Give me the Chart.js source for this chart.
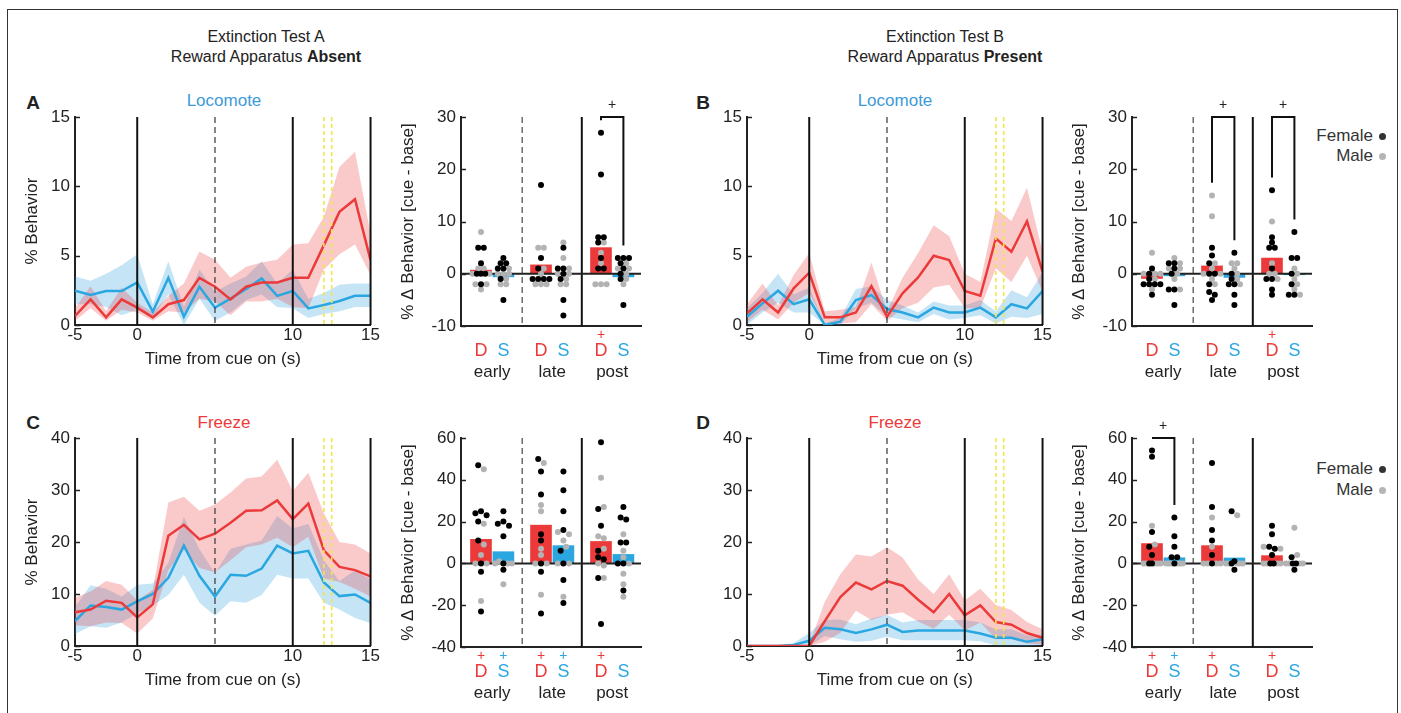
<!DOCTYPE html>
<html>
<head>
<meta charset="utf-8">
<script src="https://cdn.jsdelivr.net/npm/chart.js@4.4.0/dist/chart.umd.min.js"></script>
<style>
  body { margin: 0; background: #fff; overflow: hidden; width: 1401px; height: 713px; font-family: "Liberation Sans", Arial, sans-serif; color: #222; }
  #frame { position: absolute; left: 7px; top: 9px; width: 1389px; height: 720px; border: 1.5px solid #333; }
  canvas { position: absolute; }
  .t { position: absolute; transform: translate(-50%, -50%); white-space: nowrap; }
  .head { font-family: "Liberation Sans Narrow", "Liberation Sans", Arial, sans-serif; font-size: 16px; color: #222; }
  .letter { font-weight: bold; font-size: 19px; color: #222; }
  .sub { font-size: 17px; }
  .leg { position: absolute; font-size: 17px; color: #333; transform: translateY(-50%); text-align: right; width: 120px; white-space: nowrap; }
  .dot { display: inline-block; width: 7px; height: 7px; border-radius: 50%; margin-left: 6px; vertical-align: middle; }
</style>
</head>
<body>
<div id="frame"></div>

<div class="t head" style="left:266px;top:37px">Extinction Test A</div>
<div class="t head" style="left:266px;top:57px">Reward Apparatus <b>Absent</b></div>
<div class="t head" style="left:945px;top:37px">Extinction Test B</div>
<div class="t head" style="left:945px;top:57px">Reward Apparatus <b>Present</b></div>

<div class="t letter" style="left:33px;top:103px">A</div>
<div class="t letter" style="left:703px;top:103px">B</div>
<div class="t letter" style="left:33px;top:423px">C</div>
<div class="t letter" style="left:703px;top:423px">D</div>

<div class="t sub" style="left:224px;top:101px;color:#3D9AD8">Locomote</div>
<div class="t sub" style="left:895px;top:101px;color:#3D9AD8">Locomote</div>
<div class="t sub" style="left:224px;top:423px;color:#EC3A3A">Freeze</div>
<div class="t sub" style="left:895px;top:423px;color:#EC3A3A">Freeze</div>

<div class="leg" style="left:1266px;top:136px">Female<span class="dot" style="background:#333"></span></div>
<div class="leg" style="left:1266px;top:156px">Male<span class="dot" style="background:#b5b5b5"></span></div>
<div class="leg" style="left:1266px;top:469px">Female<span class="dot" style="background:#333"></span></div>
<div class="leg" style="left:1266px;top:490px">Male<span class="dot" style="background:#b5b5b5"></span></div>

<canvas id="lineA" width="360" height="300" style="left:20px;top:85px"></canvas>
<canvas id="barA" width="270" height="300" style="left:380px;top:85px"></canvas>
<canvas id="lineB" width="360" height="300" style="left:692px;top:85px"></canvas>
<canvas id="barB" width="270" height="300" style="left:1051px;top:85px"></canvas>
<canvas id="lineC" width="360" height="300" style="left:20px;top:406px"></canvas>
<canvas id="barC" width="270" height="300" style="left:380px;top:406px"></canvas>
<canvas id="lineD" width="360" height="300" style="left:692px;top:406px"></canvas>
<canvas id="barD" width="270" height="300" style="left:1051px;top:406px"></canvas>

<script>
// ---- time course data (1 s bins) ----
const time = [-4, -3, -2, -1, 0, 1, 2, 3, 4, 5, 6, 7, 8, 9, 10, 11, 12, 13, 14, 15];
const xTickValues = [-4, 0, 10, 15];
const xTickLabels = ['-5', '0', '10', '15'];

// A: locomote, test A
const locoA_red    = [0.65, 1.85, 0.55, 1.85, 1.25, 0.55, 1.5, 1.8, 3.4, 2.76, 1.85, 2.76, 3.07, 3.07, 3.4, 3.4, 5.76, 8.16, 9.07, 4.68];
const locoA_redLo  = [0.3, 1.2, 0.3, 1.1, 0.9, 0.3, 1.0, 0.9, 1.9, 1.7, 0.7, 1.7, 1.7, 1.9, 1.3, 1.2, 4.0, 5.1, 5.8, 3.6];
const locoA_redHi  = [1.2, 2.8, 1.0, 2.7, 1.6, 0.9, 2.1, 3.0, 5.3, 4.7, 3.4, 4.2, 4.5, 4.7, 5.8, 5.9, 7.8, 11.4, 12.5, 6.6];
const locoA_blue   = [2.47, 2.16, 2.45, 2.45, 3.07, 0.96, 3.4, 0.6, 2.76, 1.25, 1.9, 2.6, 3.36, 2.1, 2.45, 1.2, 1.44, 1.73, 2.11, 2.11];
const locoA_blueLo = [1.5, 1.5, 1.3, 0.7, 1.1, 0.5, 2.2, 0.0, 1.9, 0.3, 0.9, 1.8, 2.2, 1.3, 1.2, 0.5, 0.8, 1.0, 1.3, 1.3];
const locoA_blueHi = [3.5, 3.2, 3.7, 4.3, 5.1, 1.5, 4.6, 1.3, 4.0, 2.4, 3.0, 3.5, 4.6, 3.0, 4.0, 1.9, 2.3, 2.9, 3.0, 3.0];

// B: locomote, test B
const locoB_red    = [0.84, 1.85, 0.9, 2.64, 3.77, 0.55, 0.55, 0.9, 2.8, 0.6, 2.28, 3.43, 4.99, 4.68, 2.45, 2.11, 6.24, 5.28, 7.48, 3.84];
const locoB_redLo  = [0.2, 1.1, 0.4, 1.6, 2.3, 0.1, 0.1, 0.2, 1.5, 0.3, 1.2, 1.6, 2.7, 2.9, 1.2, 1.2, 4.1, 3.1, 5.0, 2.4];
const locoB_redHi  = [1.5, 3.0, 1.4, 3.6, 5.2, 1.0, 1.1, 1.3, 4.5, 1.0, 3.4, 5.2, 7.2, 6.4, 3.7, 3.1, 8.4, 7.5, 9.9, 5.3];
const locoB_blue   = [0.6, 1.56, 2.47, 1.5, 1.85, 0, 0.24, 1.8, 2.16, 1.15, 0.9, 0.55, 1.25, 0.9, 0.9, 1.25, 0.55, 1.5, 1.2, 2.45];
const locoB_blueLo = [0, 0.9, 1.6, 0.9, 0.9, 0, 0, 1.2, 1.6, 0.6, 0.4, 0.2, 0.8, 0.4, 0.5, 0.7, 0.1, 0.6, 0.5, 0.8];
const locoB_blueHi = [1.2, 2.3, 3.7, 2.2, 2.7, 0.1, 0.5, 2.6, 2.8, 1.8, 1.4, 0.9, 1.7, 1.4, 1.4, 1.8, 1.0, 2.5, 2.0, 3.8];

// C: freeze, test A
const freezeC_red    = [6.5, 7.0, 8.7, 8.3, 5.5, 8.0, 21.2, 23.3, 20.5, 21.6, 23.7, 26.0, 26.1, 28.0, 24.4, 27.4, 18.4, 15.2, 14.6, 13.4];
const freezeC_redLo  = [4.0, 3.8, 4.5, 4.4, 2.4, 5.3, 14.5, 18.5, 15.0, 14.2, 16.5, 19.0, 19.5, 20.8, 19.0, 21.0, 13.0, 12.3, 11.0, 9.5];
const freezeC_redHi  = [9.3, 10.5, 12.5, 11.8, 8.8, 10.8, 27.6, 28.7, 26.0, 27.2, 29.5, 32.2, 32.6, 35.8, 29.8, 33.3, 25.5, 20.0, 19.5, 17.8];
const freezeC_blue   = [4.8, 7.8, 7.5, 7.0, 8.6, 10.0, 13.1, 19.3, 13.5, 9.5, 13.7, 13.5, 14.9, 19.3, 17.8, 18.3, 12.2, 9.6, 9.9, 8.3];
const freezeC_blueLo = [2.3, 3.8, 3.5, 4.5, 6.3, 7.8, 9.8, 13.7, 8.3, 5.8, 8.6, 8.3, 9.8, 13.7, 13.0, 13.0, 8.3, 7.0, 5.4, 4.4];
const freezeC_blueHi = [7.5, 11.7, 11.0, 9.5, 11.8, 12.0, 16.0, 24.8, 18.6, 14.0, 18.7, 19.5, 20.3, 25.0, 22.6, 23.5, 16.5, 12.5, 14.5, 12.8];

// D: freeze, test B
const freezeD_red    = [0, 0, 0, 0, 0, 4.8, 9.4, 12.2, 10.9, 12.5, 11.6, 8.9, 6.5, 10.0, 5.9, 7.8, 4.6, 4.1, 2.5, 1.6];
const freezeD_redLo  = [0, 0, 0, 0, 0, 0.8, 2.5, 6.8, 5.0, 6.0, 6.5, 4.7, 3.3, 6.0, 3.0, 4.5, 1.3, 1.3, 0.5, 0.3];
const freezeD_redHi  = [0, 0, 0, 0, 0.3, 8.5, 13.8, 17.6, 17.2, 19.0, 17.0, 12.8, 10.0, 13.8, 8.8, 11.0, 7.9, 6.9, 4.6, 3.2];
const freezeD_blue   = [0, 0, 0, 0.2, 1.0, 3.5, 3.2, 2.5, 3.2, 4.1, 2.7, 3.0, 3.0, 3.0, 3.0, 2.4, 1.6, 1.6, 0.8, 1.3];
const freezeD_blueLo = [0, 0, 0, 0, 0, 1.9, 1.3, 0.8, 1.0, 1.8, 1.1, 1.1, 1.1, 1.1, 1.1, 0.9, 0.1, 0.1, 0, 0.2];
const freezeD_blueHi = [0, 0, 0, 0.6, 2.5, 5.0, 5.1, 4.2, 5.3, 6.0, 4.5, 5.0, 5.0, 5.0, 5.0, 4.5, 3.2, 3.2, 2.0, 2.2];

// ---- cue minus baseline, order: early D, early S, late D, late S, post D, post S ----
const periods = ['early', 'late', 'post'];
const cues = ['D', 'S'];

const barsA = [0.7, -0.6, 1.7, -0.1, 5.0, -0.6];
const femaleA = [[5, 5, 2, 0, 0, 0, -2], [3, 2, 2, 1, 1, -1, -5], [17, 3, 1, -1, -1, -1, -1], [5, 1, 1, 0, -1, -5, -8], [27, 19, 7, 7, 6, 3, 1, 1], [3, 3, 3, 2, 1, 0, -1, -6]];
const maleA = [[8, 1, 1, 0, 0, -2, -2, -3], [1, 0, 0, 0, -1, -2, -2], [5, 5, 1, 0, -2, -2, -2], [6, 3, 1, 0, 0, -1, -2, -2], [6, 4, 2, -2, -2, -2], [2, 1, 1, 0, -1, -2]];

const barsB = [-0.9, -0.4, 1.5, -0.7, 3.0, -0.2];
const femaleB = [[1, 0, -1, -2, -2, -2, -2, -4], [2, 2, 1, 0, -3, -3, -6], [5, 3.5, 2, 0, 0, -2, -3.5, -4, -5], [4, 0, -1, -2, -2, -4, -6], [16, 7, 6, 5, 5, 1, -1, -1, -3, -4], [8, 3, 3, 0, -2, -4, -4]];
const maleB = [[4, 0, 0, 0, -1, -3], [3, 2, 1, 1, 0, -1, -3], [15, 11, 2, 1, 0, 0, -1, -2], [2, 2, 1, 0, -1, -2], [10, 2, 0, 0, -1], [1, 0, -1, -2, -3, -4]];

const barsC = [11.5, 5.6, 18.3, 8.5, 10.5, 4.3];
const femaleC = [[47, 25, 24, 23, 20, 11, 0, -4, -23], [25, 20, 19, 18, 13, 0, -3], [50, 44, 33, 14, 11, 0, -4, -24], [44, 35, 25, 16, 6, 0, -8, -19], [58, 26, 18, 6, 3, 2, -7, -29], [27, 22, 21, 10, 10, 0, 0, -13]];
const maleC = [[45, 19, 9, 4, 0, 0, -18], [1, 0, 0, 0, -10], [48, 28, 25, 7, 4, 0, 0, -15], [15, 14, 11, 8, 0, 0, -16], [41, 27, 13, 12, 7, 0, -1, -7], [14, 6, 3, 0, -5, -10, -16]];

const barsD = [9.5, 2.7, 8.5, 2.6, 3.7, 0.8];
const femaleD = [[54, 51, 15, 8, 4, 0, 0], [22, 13, 8, 3, 3, 0], [48, 27, 16, 11, 4, 0], [25, 1, 0, -3], [18, 14, 8, 7, 4, 0, 0], [3, 0, 0, -3]];
const maleD = [[18, 9, 0, 0, 0, 0, 0], [0, 0, 0, 0, 0, 0], [22, 8, 0, 0, 0, 0], [23, 0, 0, 0, 0, 0], [8, 7, 0, 0, 0, 0], [17, 4, 0, 0, 0, 0]];

// significance: brackets between D and S, '+' marks under the cue labels
const sigA = { brackets: ['post'], plusD: [false, false, true], plusS: [false, false, false] };
const sigB = { brackets: ['late', 'post'], plusD: [false, false, true], plusS: [false, false, false] };
const sigC = { brackets: [], plusD: [true, true, true], plusS: [true, true, false] };
const sigD = { brackets: ['early'], plusD: [true, true, true], plusS: [true, false, false] };

const RED = '#EC3A3A';
const BLUE = '#2AA7E0';
const RED_BAND = 'rgba(237, 50, 55, 0.26)';
const BLUE_BAND = 'rgba(40, 160, 220, 0.27)';

Chart.defaults.font.family = "'Liberation Sans', Arial, sans-serif";
Chart.defaults.font.size = 17;
Chart.defaults.color = '#222';
Chart.defaults.animation = false;

// vertical event markers on the time course plots
const solidMarks = [0, 10, 15];
const dashedMark = 5;
const pelletMarks = [12, 12.5];

function vline(ctx, x, top, bottom) {
  ctx.beginPath();
  ctx.moveTo(x, top);
  ctx.lineTo(x, bottom);
  ctx.stroke();
}

function insideTicks(chart) {
  const { ctx, chartArea: a, scales: { y } } = chart;
  ctx.save();
  ctx.strokeStyle = '#222';
  ctx.lineWidth = 1.5;
  y.ticks.forEach(t => {
    const py = Math.round(y.getPixelForValue(t.value)) + 0.5;
    ctx.beginPath();
    ctx.moveTo(a.left, py);
    ctx.lineTo(a.left + 5, py);
    ctx.stroke();
  });
  ctx.restore();
}

const lineDeco = {
  id: 'lineDeco',
  afterDatasetsDraw(chart) {
    const { ctx, chartArea: a, scales: { x } } = chart;
    ctx.save();
    ctx.strokeStyle = '#111';
    ctx.lineWidth = 2;
    solidMarks.forEach(v => vline(ctx, x.getPixelForValue(v), a.top, a.bottom));
    ctx.strokeStyle = '#444';
    ctx.lineWidth = 1.3;
    ctx.setLineDash([6, 4]);
    vline(ctx, x.getPixelForValue(dashedMark), a.top, a.bottom);
    ctx.strokeStyle = '#F2E64A';
    ctx.lineWidth = 1.6;
    ctx.setLineDash([4, 3]);
    pelletMarks.forEach(v => vline(ctx, x.getPixelForValue(v), a.top, a.bottom));
    ctx.restore();
  },
  afterDraw(chart) { insideTicks(chart); }
};

function makeLineChart(id, red, redLo, redHi, blue, blueLo, blueHi, yMax, yStep, yTitle) {
  const pts = arr => arr.map((v, i) => ({ x: time[i], y: v }));
  return new Chart(document.getElementById(id), {
    type: 'line',
    data: {
      datasets: [
        { data: pts(red), borderColor: RED, borderWidth: 2.5, pointRadius: 0, order: 0 },
        { data: pts(blue), borderColor: BLUE, borderWidth: 2.5, pointRadius: 0, order: 1 },
        { data: pts(redHi), borderWidth: 0, pointRadius: 0, backgroundColor: RED_BAND, fill: '+1', order: 2 },
        { data: pts(redLo), borderWidth: 0, pointRadius: 0, order: 3 },
        { data: pts(blueHi), borderWidth: 0, pointRadius: 0, backgroundColor: BLUE_BAND, fill: '+1', order: 4 },
        { data: pts(blueLo), borderWidth: 0, pointRadius: 0, order: 5 }
      ]
    },
    options: {
      responsive: false,
      devicePixelRatio: 1,
      layout: { padding: { left: 2, right: 8, top: 32, bottom: 15 } },
      plugins: { legend: { display: false }, tooltip: { enabled: false } },
      scales: {
        x: {
          type: 'linear', min: -4, max: 15,
          grid: { display: false, drawTicks: false },
          border: { display: true, color: '#222', width: 2 },
          afterBuildTicks: s => { s.ticks = xTickValues.map(v => ({ value: v })); },
          ticks: { padding: 0, maxRotation: 0, callback: v => xTickLabels[xTickValues.indexOf(v)] },
          title: { display: true, text: 'Time from cue on (s)', padding: { top: 0, bottom: 0 } },
          afterFit: s => { s.height = 45; }
        },
        y: {
          min: 0, max: yMax,
          grid: { display: false, drawTicks: false },
          border: { display: true, color: '#222', width: 2 },
          ticks: { stepSize: yStep, padding: 5 },
          title: { display: yTitle, text: '% Behavior', padding: { top: 0, bottom: 4 } },
          afterFit: s => { s.width = 53; }
        }
      }
    },
    plugins: [lineDeco]
  });
}

// horizontal position of each bar: groups of D,S per period
function barPos(i) {
  return Math.floor(i / 2) * 3 + (i % 2 === 0 ? 1 : 2.12);
}
const sepLate = 3.06;
const sepPost = 6.04;

// beeswarm: spread points with similar values sideways around the bar centre
function swarm(fem, male, center, pxPerUnit) {
  const pts = fem.map(v => ({ v, f: 1 })).concat(male.map(v => ({ v, f: 0 })));
  pts.sort((a, b) => b.v - a.v);
  const bins = [];
  pts.forEach(p => {
    const last = bins[bins.length - 1];
    if (last && (last[0].v - p.v) * pxPerUnit < 4.5) last.push(p);
    else bins.push([p]);
  });
  const outF = [], outM = [];
  bins.forEach(bin => {
    bin.sort((a, b) => b.f - a.f);
    const n = bin.length;
    const step = n > 1 ? Math.min(0.28, 0.84 / (n - 1)) : 0;
    const slots = [];
    for (let k = 0; k < n; k++) slots.push((k - (n - 1) / 2) * step);
    slots.sort((a, b) => Math.abs(a) - Math.abs(b) || a - b);
    bin.forEach((p, i) => (p.f ? outF : outM).push({ x: center + slots[i], y: p.v }));
  });
  return { outF, outM };
}

const barDeco = {
  id: 'barDeco',
  beforeDatasetsDraw(chart) {
    const { ctx, chartArea: a, scales: { x } } = chart;
    ctx.save();
    ctx.strokeStyle = '#555';
    ctx.lineWidth = 1.3;
    ctx.setLineDash([6, 4]);
    vline(ctx, x.getPixelForValue(sepLate), a.top, a.bottom);
    ctx.setLineDash([]);
    ctx.strokeStyle = '#111';
    ctx.lineWidth = 2;
    vline(ctx, x.getPixelForValue(sepPost), a.top, a.bottom);
    ctx.restore();
  },
  afterDatasetDraw(chart, args) {
    if (args.meta.type !== 'bar') return;
    const { ctx, chartArea: a, scales: { y } } = chart;
    const py = y.getPixelForValue(0);
    ctx.save();
    ctx.strokeStyle = '#222';
    ctx.lineWidth = 2;
    ctx.beginPath();
    ctx.moveTo(a.left, py);
    ctx.lineTo(a.right, py);
    ctx.stroke();
    ctx.restore();
  },
  afterDraw(chart, args, opts) {
    const { ctx, chartArea: a, scales: { x, y } } = chart;
    const sig = opts.sig;
    const pts = opts.pts;
    ctx.save();
    ctx.textAlign = 'center';
    ctx.textBaseline = 'middle';
    // cue and period labels under the axis
    periods.forEach((p, g) => {
      const xd = x.getPixelForValue(barPos(2 * g));
      const xs = x.getPixelForValue(barPos(2 * g + 1));
      ctx.font = "14px 'Liberation Sans', Arial, sans-serif";
      if (sig.plusD[g]) { ctx.fillStyle = RED; ctx.fillText('+', xd, a.bottom + 9); }
      if (sig.plusS[g]) { ctx.fillStyle = BLUE; ctx.fillText('+', xs, a.bottom + 9); }
      ctx.font = "18px 'Liberation Sans', Arial, sans-serif";
      ctx.fillStyle = RED;
      ctx.fillText(cues[0], xd, a.bottom + 25);
      ctx.fillStyle = BLUE;
      ctx.fillText(cues[1], xs, a.bottom + 25);
      ctx.font = "17px 'Liberation Sans', Arial, sans-serif";
      ctx.fillStyle = '#222';
      ctx.fillText(p, (xd + xs) / 2, a.bottom + 46);
    });
    // D vs S brackets
    const range = y.max - y.min;
    ctx.strokeStyle = '#111';
    ctx.lineWidth = 2;
    sig.brackets.forEach(p => {
      const g = periods.indexOf(p);
      const legD = Math.max(...pts[2 * g]) + 0.06 * range;
      const legS = Math.max(...pts[2 * g + 1]) + 0.06 * range;
      const xd = x.getPixelForValue(barPos(2 * g));
      const xs = x.getPixelForValue(barPos(2 * g + 1));
      const top = y.getPixelForValue(y.max);
      ctx.beginPath();
      ctx.moveTo(xd, y.getPixelForValue(legD));
      ctx.lineTo(xd, top);
      ctx.lineTo(xs, top);
      ctx.lineTo(xs, y.getPixelForValue(legS));
      ctx.stroke();
      ctx.font = "14px 'Liberation Sans', Arial, sans-serif";
      ctx.fillStyle = '#222';
      ctx.fillText('+', (xd + xs) / 2, top - 12);
    });
    ctx.restore();
    insideTicks(chart);
  }
};

function makeBarChart(id, bars, fem, male, yMin, yMax, yStep, sig) {
  const pxPerUnit = 209 / (yMax - yMin);
  const femPts = [], malePts = [], allPts = [];
  bars.forEach((b, i) => {
    const s = swarm(fem[i], male[i], barPos(i), pxPerUnit);
    femPts.push(...s.outF);
    malePts.push(...s.outM);
    allPts.push(fem[i].concat(male[i]));
  });
  return new Chart(document.getElementById(id), {
    type: 'bar',
    data: {
      datasets: [
        {
          data: bars.map((v, i) => ({ x: barPos(i), y: v })),
          backgroundColor: bars.map((v, i) => (i % 2 === 0 ? RED : BLUE)),
          barThickness: 21, order: 3
        },
        { type: 'scatter', data: malePts, backgroundColor: '#B3B3B3', pointRadius: 3, borderWidth: 0, order: 2 },
        { type: 'scatter', data: femPts, backgroundColor: '#000', pointRadius: 3, borderWidth: 0, order: 1 }
      ]
    },
    options: {
      responsive: false,
      devicePixelRatio: 1,
      layout: { padding: { left: 18, right: 9, top: 32, bottom: 0 } },
      plugins: {
        legend: { display: false }, tooltip: { enabled: false },
        barDeco: { sig: sig, pts: allPts }
      },
      scales: {
        x: {
          type: 'linear', min: 0, max: 9, offset: false,
          grid: { display: false, drawTicks: false, offset: false },
          border: { display: true, color: '#222', width: 2 },
          ticks: { display: false },
          afterFit: s => { s.height = 59; }
        },
        y: {
          min: yMin, max: yMax,
          grid: { display: false, drawTicks: false },
          border: { display: true, color: '#222', width: 2 },
          ticks: { stepSize: yStep, padding: 5 },
          title: { display: true, text: '% \u0394 Behavior [cue - base]', padding: { top: 0, bottom: 4 } },
          afterFit: s => { s.width = 63; }
        }
      }
    },
    plugins: [barDeco]
  });
}

makeLineChart('lineA', locoA_red, locoA_redLo, locoA_redHi, locoA_blue, locoA_blueLo, locoA_blueHi, 15, 5, true);
makeLineChart('lineB', locoB_red, locoB_redLo, locoB_redHi, locoB_blue, locoB_blueLo, locoB_blueHi, 15, 5, false);
makeLineChart('lineC', freezeC_red, freezeC_redLo, freezeC_redHi, freezeC_blue, freezeC_blueLo, freezeC_blueHi, 40, 10, true);
makeLineChart('lineD', freezeD_red, freezeD_redLo, freezeD_redHi, freezeD_blue, freezeD_blueLo, freezeD_blueHi, 40, 10, false);

makeBarChart('barA', barsA, femaleA, maleA, -10, 30, 10, sigA);
makeBarChart('barB', barsB, femaleB, maleB, -10, 30, 10, sigB);
makeBarChart('barC', barsC, femaleC, maleC, -40, 60, 20, sigC);
makeBarChart('barD', barsD, femaleD, maleD, -40, 60, 20, sigD);
</script>
</body>
</html>
